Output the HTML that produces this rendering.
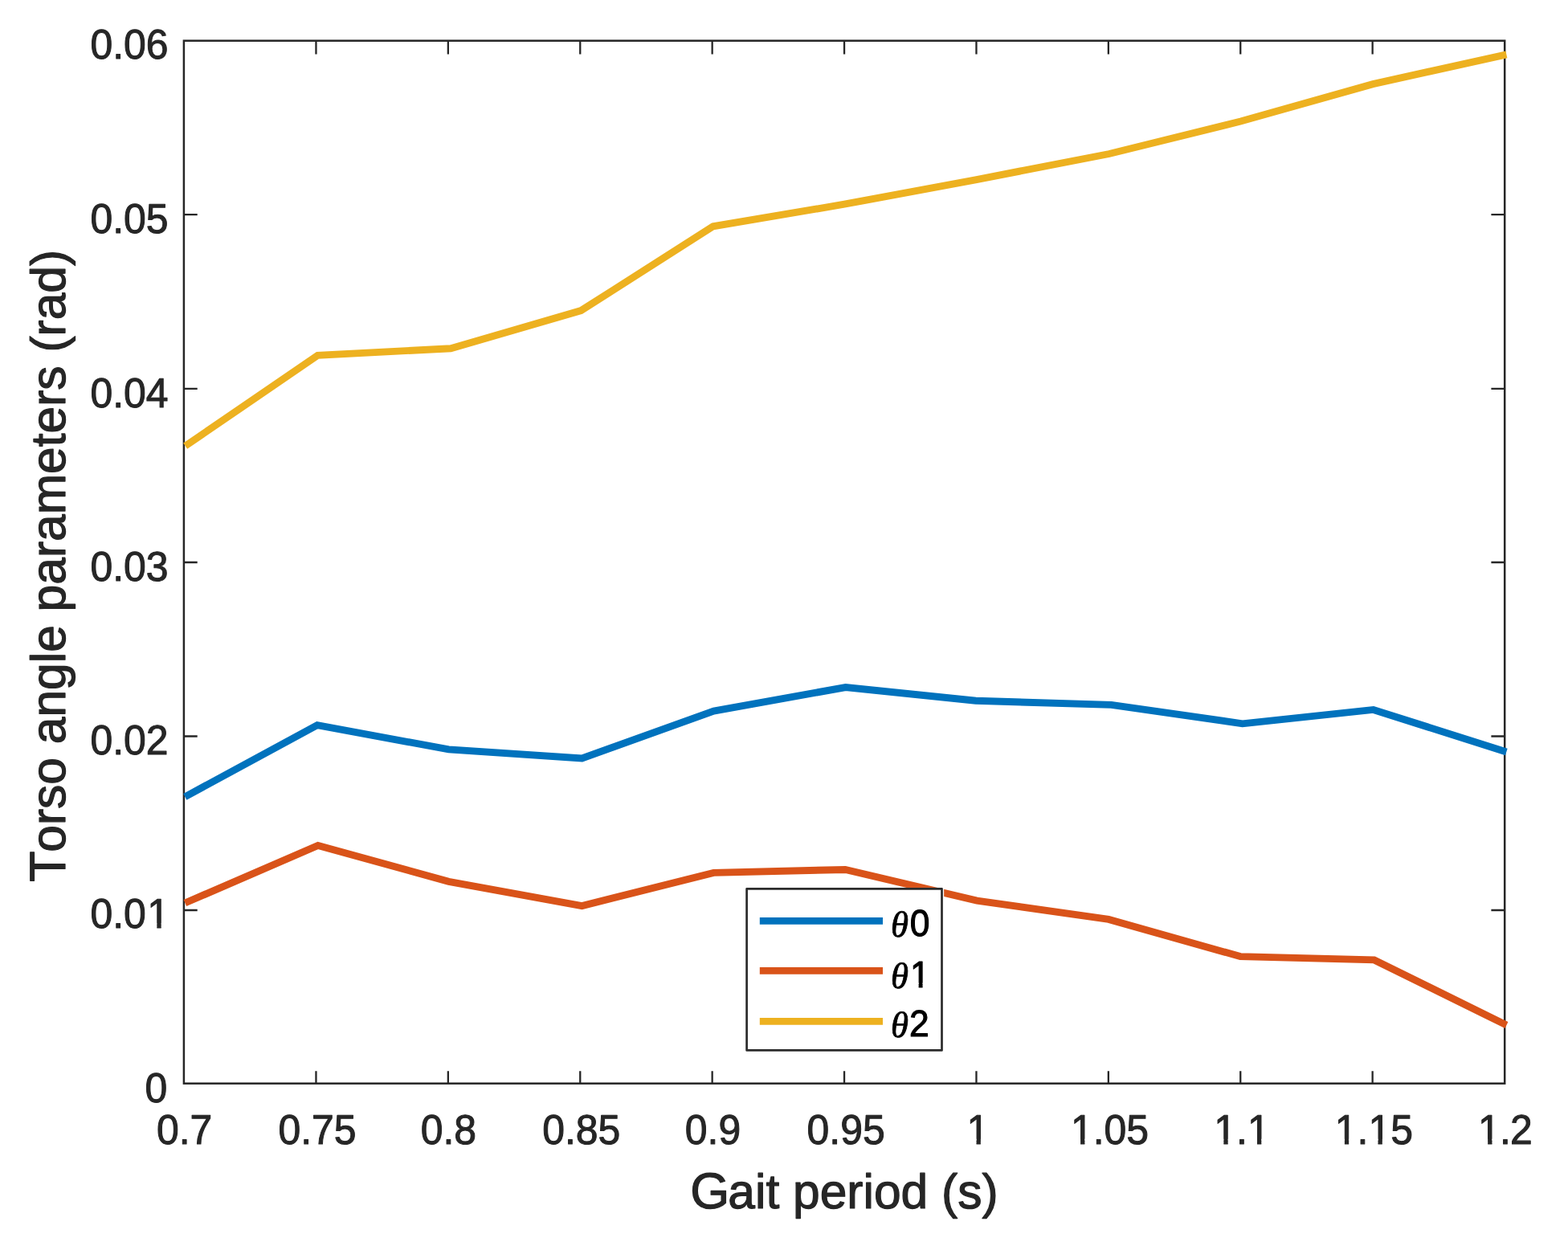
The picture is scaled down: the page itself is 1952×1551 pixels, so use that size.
<!DOCTYPE html>
<html lang="en"><head><meta charset="utf-8"><title>Torso angle parameters vs gait period</title>
<style>
html,body{margin:0;padding:0;background:#fff;}
body{width:1952px;height:1551px;overflow:hidden;}
svg{display:block;}
text{font-family:"Liberation Sans",sans-serif;fill:#262626;stroke:#262626;stroke-linejoin:round;font-kerning:none;font-variant-ligatures:none;text-rendering:geometricPrecision;white-space:pre;}
.tk{font-size:49.9px;stroke-width:1.0px;}
.lab{font-size:60.5px;stroke-width:1.2px;}
.leg{font-size:44.4px;fill:#000;stroke:#000;stroke-width:1.1px;}
.th{font-family:"Liberation Serif",serif;font-style:italic;}
</style></head><body>
<svg width="1952" height="1551" viewBox="0 0 1952 1551">
<rect x="0" y="0" width="1952" height="1551" fill="#fff"/>
<g stroke="#262626" stroke-width="2.5" fill="none">
<rect x="228.9" y="50.7" width="1644.3" height="1298.0"/>
<path stroke-width="2.3" d="M393.45 1348.7V1333.20M393.45 50.7V67.40M557.85 1348.7V1333.20M557.85 50.7V67.40M722.25 1348.7V1333.20M722.25 50.7V67.40M886.65 1348.7V1333.20M886.65 50.7V67.40M1051.05 1348.7V1333.20M1051.05 50.7V67.40M1215.45 1348.7V1333.20M1215.45 50.7V67.40M1379.85 1348.7V1333.20M1379.85 50.7V67.40M1544.25 1348.7V1333.20M1544.25 50.7V67.40M1708.65 1348.7V1333.20M1708.65 50.7V67.40M228.9 1133.00H245.70M1873.2 1133.00H1856.40M228.9 916.50H245.70M1873.2 916.50H1856.40M228.9 700.00H245.70M1873.2 700.00H1856.40M228.9 483.90H245.70M1873.2 483.90H1856.40M228.9 267.15H245.70M1873.2 267.15H1856.40"/>
</g>
<polyline points="230.30,991.80 394.95,902.70 558.60,932.90 724.50,944.00 888.55,885.15 1052.70,855.50 1214.75,872.25 1383.50,877.40 1546.75,900.80 1709.70,883.40 1875.30,936.10" fill="none" stroke="#0072BD" stroke-width="8.9" stroke-linejoin="miter" stroke-linecap="butt"/>
<polyline points="230.40,1124.00 395.85,1052.40 558.60,1097.35 724.45,1127.65 888.35,1086.35 1052.35,1082.45 1216.20,1121.20 1380.10,1144.35 1544.05,1190.60 1710.75,1194.90 1875.50,1276.10" fill="none" stroke="#D95319" stroke-width="8.9" stroke-linejoin="miter" stroke-linecap="butt"/>
<polyline points="230.70,555.15 395.50,442.35 561.10,433.75 723.30,386.60 887.70,281.80 1051.20,254.20 1215.70,223.60 1380.80,191.50 1544.50,151.05 1709.20,104.60 1875.40,67.80" fill="none" stroke="#EDB120" stroke-width="8.9" stroke-linejoin="miter" stroke-linecap="butt"/>
<text class="tk" transform="translate(194.97,1423.90) scale(1.0,1.04)">0.7</text>
<text class="tk" transform="translate(346.39,1423.90) scale(1.0,1.04)">0.75</text>
<text class="tk" transform="translate(523.67,1423.90) scale(1.0,1.04)">0.8</text>
<text class="tk" transform="translate(675.19,1423.90) scale(1.0,1.04)">0.85</text>
<text class="tk" transform="translate(852.87,1423.90) scale(1.0,1.04)">0.9</text>
<text class="tk" transform="translate(1004.59,1423.90) scale(1.0,1.04)">0.95</text>
<clipPath id="c1"><path clip-rule="evenodd" d="M-400 -400H400V400H-400ZM1.80 -5.83H12.12V2.00H1.80ZM17.38 -5.83H27.32V2.00H17.38Z"/></clipPath>
<text class="tk" transform="translate(1203.43,1423.90) scale(1.0,1.04)" clip-path="url(#c1)">1</text>
<clipPath id="c2"><path clip-rule="evenodd" d="M-400 -400H400V400H-400ZM1.80 -5.83H12.12V2.00H1.80ZM17.38 -5.83H27.32V2.00H17.38Z"/></clipPath>
<text class="tk" transform="translate(1332.99,1423.90) scale(1.0,1.04)" clip-path="url(#c2)">1.05</text>
<clipPath id="c3"><path clip-rule="evenodd" d="M-400 -400H400V400H-400ZM1.80 -5.83H12.12V2.00H1.80ZM17.38 -5.83H27.32V2.00H17.38ZM43.42 -5.83H53.74V2.00H43.42ZM59.00 -5.83H68.93V2.00H59.00Z"/></clipPath>
<text class="tk" transform="translate(1511.27,1423.90) scale(1.0,1.04)" clip-path="url(#c3)">1.1</text>
<clipPath id="c4"><path clip-rule="evenodd" d="M-400 -400H400V400H-400ZM1.80 -5.83H12.12V2.00H1.80ZM17.38 -5.83H27.32V2.00H17.38ZM43.42 -5.83H53.74V2.00H43.42ZM59.00 -5.83H68.93V2.00H59.00Z"/></clipPath>
<text class="tk" transform="translate(1661.79,1423.90) scale(1.0,1.04)" clip-path="url(#c4)">1.15</text>
<clipPath id="c5"><path clip-rule="evenodd" d="M-400 -400H400V400H-400ZM1.80 -5.83H12.12V2.00H1.80ZM17.38 -5.83H27.32V2.00H17.38Z"/></clipPath>
<text class="tk" transform="translate(1840.07,1423.90) scale(1.0,1.04)" clip-path="url(#c5)">1<tspan dx="-0.70">.</tspan><tspan dx="-0.90">2</tspan></text>
<text class="tk" transform="translate(180.45,1371.90) scale(1.0,1.04)">0</text>
<clipPath id="c6"><path clip-rule="evenodd" d="M-400 -400H400V400H-400ZM72.67 -5.83H82.99V2.00H72.67ZM88.25 -5.83H98.18V2.00H88.25Z"/></clipPath>
<text class="tk" transform="translate(112.38,1155.20) scale(1.0,1.04)" clip-path="url(#c6)">0.0<tspan dx="1.50">1</tspan></text>
<text class="tk" transform="translate(112.38,938.50) scale(1.0,1.04)">0.02</text>
<text class="tk" transform="translate(112.38,723.00) scale(1.0,1.04)">0.03</text>
<text class="tk" transform="translate(112.38,506.50) scale(1.0,1.04)">0.04</text>
<text class="tk" transform="translate(112.38,290.00) scale(1.0,1.04)">0.05</text>
<text class="tk" transform="translate(112.38,73.40) scale(1.0,1.04)">0.06</text>
<text class="lab" text-anchor="middle" transform="translate(1050.90,1504.20) scale(1.0,1.0)"><tspan font-size="62.92">G</tspan><tspan dx="-1.88">ait period (s)</tspan></text>
<text class="lab" text-anchor="middle" transform="translate(81.20,704.30) rotate(-90) scale(1.0,1.0)"><tspan font-size="62.92">T</tspan><tspan dx="-1.48">orso angle parameters (rad)</tspan></text>
<rect x="928.25" y="1104.95" width="246.89999999999998" height="205.10000000000014" fill="#fff"/>
<rect x="929.6" y="1106.3" width="242.89999999999998" height="201.10000000000014" fill="#fff" stroke="#2b2b2b" stroke-width="2.7" stroke-linejoin="round"/>
<line x1="945.8" x2="1099" y1="1146.4" y2="1146.4" stroke="#0072BD" stroke-width="8.9"/>
<text class="leg" transform="translate(1109.00,1164.70) scale(1.0,1.045)"><tspan class="th" font-size="43.6" stroke-width="0.8" textLength="21.97" lengthAdjust="spacingAndGlyphs" dy="1.0">θ</tspan><tspan dx="1.90" dy="-1.0">0</tspan></text>
<line x1="945.8" x2="1099" y1="1208.4" y2="1208.4" stroke="#D95319" stroke-width="8.9"/>
<clipPath id="c7"><path clip-rule="evenodd" d="M-400 -400H400V400H-400ZM25.31 -5.47H34.67V2.05H25.31ZM39.53 -5.47H48.55V2.05H39.53Z"/></clipPath>
<text class="leg" transform="translate(1109.00,1229.25) scale(1.0,1.045)" clip-path="url(#c7)"><tspan class="th" font-size="43.6" stroke-width="0.8" textLength="21.97" lengthAdjust="spacingAndGlyphs" dy="1.0">θ</tspan><tspan dx="2.00" dy="-1.0">1</tspan></text>
<line x1="945.8" x2="1099" y1="1271.4" y2="1271.4" stroke="#EDB120" stroke-width="8.9"/>
<text class="leg" transform="translate(1109.00,1290.20) scale(1.0,1.045)"><tspan class="th" font-size="43.6" stroke-width="0.8" textLength="21.97" lengthAdjust="spacingAndGlyphs" dy="1.0">θ</tspan><tspan dx="1.00" dy="-1.0">2</tspan></text>
</svg></body></html>
